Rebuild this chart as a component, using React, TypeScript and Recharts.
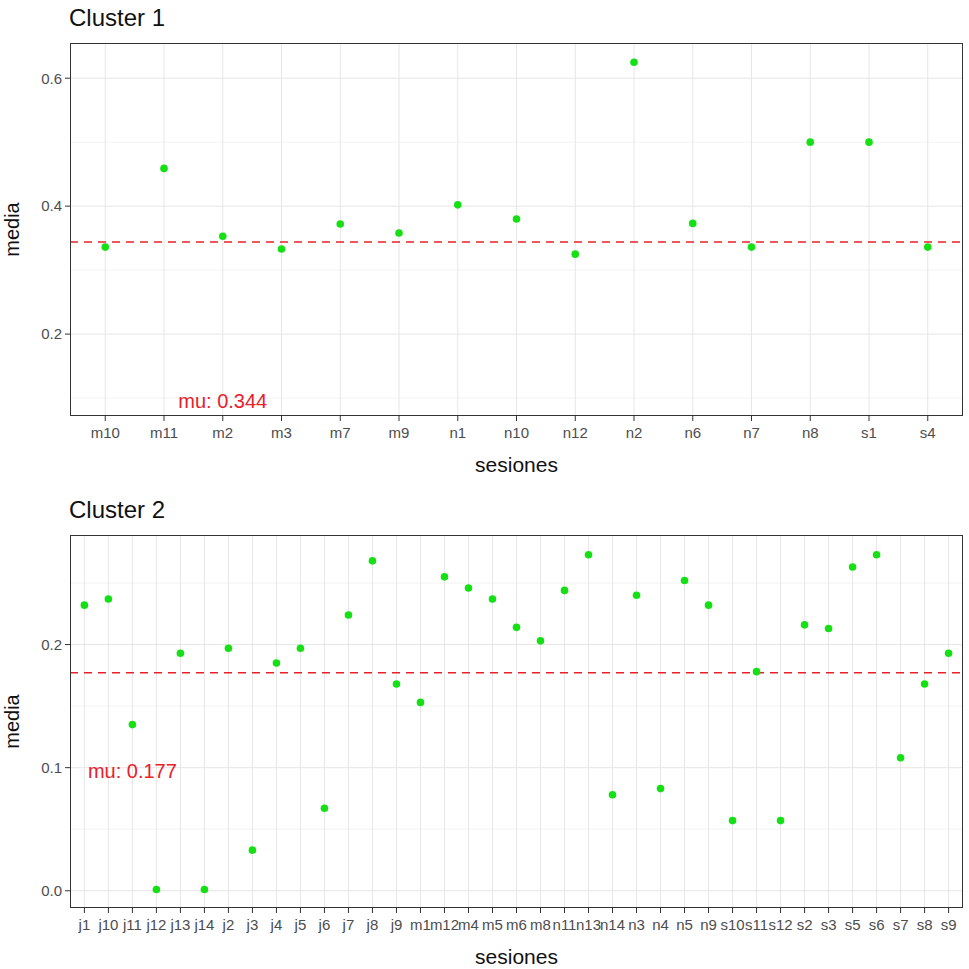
import React from "react";
import {
  ScatterChart,
  Scatter,
  XAxis,
  YAxis,
  CartesianGrid,
  ReferenceLine,
  ReferenceDot,
} from "recharts";

const cluster1Sessions = ["m10", "m11", "m2", "m3", "m7", "m9", "n1", "n10", "n12", "n2", "n6", "n7", "n8", "s1", "s4"];
const cluster1Media = [0.336, 0.459, 0.353, 0.333, 0.372, 0.358, 0.402, 0.38, 0.325, 0.625, 0.373, 0.336, 0.5, 0.5, 0.336];
const cluster1Mu = 0.344;

const cluster2Sessions = [
  "j1", "j10", "j11", "j12", "j13", "j14", "j2", "j3", "j4", "j5", "j6", "j7", "j8", "j9",
  "m1", "m12", "m4", "m5", "m6", "m8", "n11", "n13", "n14", "n3", "n4", "n5", "n9",
  "s10", "s11", "s12", "s2", "s3", "s5", "s6", "s7", "s8", "s9",
];
const cluster2Media = [
  0.232, 0.237, 0.135, 0.001, 0.193, 0.001, 0.197, 0.033, 0.185, 0.197, 0.067, 0.224, 0.268, 0.168,
  0.153, 0.255, 0.246, 0.237, 0.214, 0.203, 0.244, 0.273, 0.078, 0.24, 0.083, 0.252, 0.232,
  0.057, 0.178, 0.057, 0.216, 0.213, 0.263, 0.273, 0.108, 0.168, 0.193,
];
const cluster2Mu = 0.177;

const cluster1YTicks = [0.2, 0.4, 0.6];
const cluster1YMinor = [0.1, 0.3, 0.5];
const cluster2YTicks = [0.0, 0.1, 0.2];
const cluster2YMinor = [0.05, 0.15, 0.25];

const FONT = "'Liberation Sans', Arial, sans-serif";
const GREEN = "#14e014";
const RED = "#e8202a";

type PanelProps = {
  title: string;
  sessions: string[];
  values: number[];
  mu: number;
  yDomain: [number, number];
  yTicks: number[];
  yMinor: number[];
  yFormat: (v: number) => string;
  labelX: number;
  labelY: number;
  top: number;
};

const Dot = (props: any) => {
  const { cx, cy } = props;
  return <circle cx={cx} cy={cy} r={3.8} fill={GREEN} />;
};

function Panel(p: PanelProps) {
  const data = p.sessions.map((s, i) => ({ idx: i, name: s, media: p.values[i] }));
  const n = p.sessions.length;
  const idxTicks = p.sessions.map((_, i) => i);
  const W = 969;
  const H = 480;
  return (
    <div style={{ position: "absolute", left: 0, top: p.top, width: W, height: H }}>
      <div
        style={{
          position: "absolute",
          left: 69,
          top: 3,
          fontFamily: FONT,
          fontSize: 24,
          color: "#111",
          lineHeight: "30px",
        }}
      >
        {p.title}
      </div>
      <ScatterChart
        width={W}
        height={H}
        margin={{ top: 43, right: 6, bottom: 0, left: 0 }}
        style={{ fontFamily: FONT }}
      >
        <CartesianGrid
          horizontalValues={p.yMinor}
          vertical={false}
          stroke="#f2f2f2"
          strokeWidth={1}
        />
        <CartesianGrid
          horizontalValues={p.yTicks}
          verticalValues={idxTicks}
          stroke="#e6e6e6"
          strokeWidth={1}
        />
        <XAxis
          type="number"
          dataKey="idx"
          domain={[-0.6, n - 1 + 0.6]}
          ticks={idxTicks}
          interval={0}
          tickFormatter={(v: number) => p.sessions[v] ?? ""}
          height={64}
          axisLine={false}
          tickLine={{ stroke: "#333", strokeWidth: 1 }}
          tickSize={5}
          tickMargin={6}
          tick={{ fill: "#4d4d4d", fontSize: 15, fontFamily: FONT }}
          label={{
            value: "sesiones",
            position: "insideBottom",
            offset: 8,
            fill: "#111",
            fontSize: 21,
            fontFamily: FONT,
          }}
          allowDataOverflow
        />
        <YAxis
          type="number"
          dataKey="media"
          domain={p.yDomain}
          ticks={p.yTicks}
          tickFormatter={p.yFormat}
          width={70}
          axisLine={false}
          tickLine={{ stroke: "#333", strokeWidth: 1 }}
          tickSize={5}
          tickMargin={3}
          tick={{ fill: "#4d4d4d", fontSize: 15, fontFamily: FONT }}
          allowDataOverflow
          label={{
            value: "media",
            angle: -90,
            position: "insideLeft",
            offset: 12,
            fill: "#111",
            fontSize: 20,
            fontFamily: FONT,
            style: { textAnchor: "middle" },
          }}
        />
        <ReferenceLine
          y={p.mu}
          stroke={RED}
          strokeWidth={1.5}
          strokeDasharray="8 6"
          ifOverflow="visible"
        />
        <Scatter
          data={data}
          dataKey="media"
          shape={<Dot />}
          isAnimationActive={false}
        />
        <ReferenceDot
          x={p.labelX}
          y={p.labelY}
          r={0}
          fill="none"
          stroke="none"
          ifOverflow="visible"
          label={{
            value: "mu: " + p.mu,
            position: "center",
            fill: RED,
            fontSize: 20,
            fontFamily: FONT,
          }}
        />
      </ScatterChart>
      <div
        style={{
          position: "absolute",
          left: 70,
          top: 43,
          width: W - 6 - 70 - 2,
          height: 373 - 2,
          border: "1.5px solid #333",
          pointerEvents: "none",
        }}
      />
    </div>
  );
}

export default function App() {
  return (
    <div
      style={{
        position: "absolute",
        left: 0,
        top: 0,
        width: 969,
        height: 969,
        background: "#fff",
        overflow: "hidden",
      }}
    >
      <Panel
        title="Cluster 1"
        sessions={cluster1Sessions}
        values={cluster1Media}
        mu={cluster1Mu}
        yDomain={[0.072, 0.655]}
        yTicks={cluster1YTicks}
        yMinor={cluster1YMinor}
        yFormat={(v) => v.toFixed(1)}
        labelX={2}
        labelY={0.096}
        top={0}
      />
      <Panel
        title="Cluster 2"
        sessions={cluster2Sessions}
        values={cluster2Media}
        mu={cluster2Mu}
        yDomain={[-0.014, 0.289]}
        yTicks={cluster2YTicks}
        yMinor={cluster2YMinor}
        yFormat={(v) => v.toFixed(1)}
        labelX={2}
        labelY={0.097}
        top={492}
      />
    </div>
  );
}
